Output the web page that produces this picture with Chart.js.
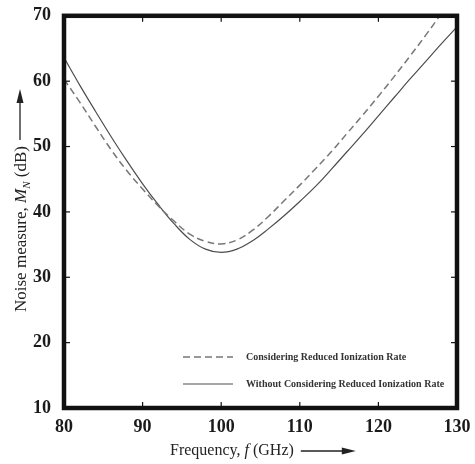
<!DOCTYPE html>
<html>
<head>
<meta charset="utf-8">
<script src="https://cdn.jsdelivr.net/npm/chart.js@4.4.0/dist/chart.umd.min.js"></script>
<style>
  html, body { margin: 0; padding: 0; background: #fff; }
</style>
</head>
<body>
<canvas id="noiseChart" width="475" height="464"></canvas>
<script>
// frequency sweep (GHz) and noise measure (dB) for both cases
const freqGHz = [80, 82, 84, 86, 88, 90, 92, 94, 96, 98, 100, 102, 104, 106, 108, 110, 112, 114, 116, 118, 120, 122, 124, 126, 128, 130];
const withReduced = [60.3, 56.8, 53.1, 49.5, 46.3, 43.5, 40.9, 38.6, 36.6, 35.5, 35.1, 35.7, 37.2, 39.3, 41.7, 44.1, 46.6, 49.2, 52.0, 54.8, 57.7, 60.7, 63.8, 67.0, 70.3, 73.6];
const withoutReduced = [63.6, 59.4, 55.4, 51.5, 47.8, 44.3, 41.1, 38.2, 35.8, 34.3, 33.8, 34.3, 35.6, 37.4, 39.4, 41.6, 43.9, 46.5, 49.2, 51.9, 54.7, 57.5, 60.3, 63.0, 65.7, 68.3];
const xTicks = [80, 90, 100, 110, 120, 130];
const yTicks = [10, 20, 30, 40, 50, 60, 70];

const serif = "'Liberation Serif', 'Times New Roman', serif";

function line(ctx, x1, y1, x2, y2) {
  ctx.beginPath();
  ctx.moveTo(x1, y1);
  ctx.lineTo(x2, y2);
  ctx.stroke();
}

function arrow(ctx, x1, y1, x2, y2) {
  const ang = Math.atan2(y2 - y1, x2 - x1);
  line(ctx, x1, y1, x2 - 10 * Math.cos(ang), y2 - 10 * Math.sin(ang));
  ctx.save();
  ctx.translate(x2, y2);
  ctx.rotate(ang);
  ctx.beginPath();
  ctx.moveTo(0, 0);
  ctx.lineTo(-14, -3.5);
  ctx.lineTo(-14, 3.5);
  ctx.closePath();
  ctx.fill();
  ctx.restore();
}

// thick box with inward ticks on all four sides
const frame = {
  id: 'frame',
  afterDatasetsDraw(chart) {
    const { ctx, chartArea: a, scales: { x, y } } = chart;
    ctx.save();
    ctx.strokeStyle = '#111';
    ctx.lineWidth = 1.2;
    xTicks.forEach(v => {
      const px = x.getPixelForValue(v);
      line(ctx, px, a.bottom, px, a.bottom - 6);
      line(ctx, px, a.top, px, a.top + 6);
    });
    yTicks.forEach(v => {
      const py = y.getPixelForValue(v);
      line(ctx, a.left, py, a.left + 6, py);
      line(ctx, a.right, py, a.right - 6, py);
    });
    ctx.lineWidth = 4.5;
    ctx.strokeRect(a.left, a.top, a.right - a.left, a.bottom - a.top);
    ctx.restore();
  }
};

// legend in the lower right of the plot
const innerLegend = {
  id: 'innerLegend',
  afterDatasetsDraw(chart) {
    const { ctx, chartArea: a } = chart;
    ctx.save();
    ctx.font = 'bold 10px ' + serif;
    ctx.textBaseline = 'middle';
    chart.data.datasets.forEach((ds, i) => {
      const yy = a.bottom - 51 + i * 27;
      ctx.strokeStyle = ds.borderColor;
      ctx.lineWidth = ds.borderWidth;
      ctx.setLineDash(ds.borderDash || []);
      line(ctx, a.left + 119, yy, a.left + 169, yy);
      ctx.setLineDash([]);
      ctx.fillStyle = '#333';
      ctx.fillText(ds.label, a.left + 182, yy);
    });
    ctx.restore();
  }
};

// axis titles with italic symbols and direction arrows
const axisTitles = {
  id: 'axisTitles',
  afterDraw(chart) {
    const { ctx } = chart;
    ctx.save();
    ctx.fillStyle = '#222';
    ctx.strokeStyle = '#222';
    ctx.lineWidth = 1.3;
    ctx.textBaseline = 'alphabetic';

    // x title
    let x = 170;
    const by = 455;
    const parts = [['Frequency, ', '16px'], ['f', 'italic 16px'], [' (GHz)', '16px']];
    parts.forEach(([t, f]) => {
      ctx.font = f + ' ' + serif;
      ctx.fillText(t, x, by);
      x += ctx.measureText(t).width;
    });
    arrow(ctx, x + 7, by - 4, x + 62, by - 4);

    // y title, drawn upward
    ctx.save();
    ctx.translate(26, 312);
    ctx.rotate(-Math.PI / 2);
    let s = 0;
    const yParts = [['Noise measure, ', '17px', 0], ['M', 'italic 17px', 0], ['N', 'italic 11px', 4], [' (dB)', '17px', 0]];
    yParts.forEach(([t, f, dy]) => {
      ctx.font = f + ' ' + serif;
      ctx.fillText(t, s, dy);
      s += ctx.measureText(t).width;
    });
    arrow(ctx, s + 6, -6, s + 57, -6);
    ctx.restore();
    ctx.restore();
  }
};

const tickFont = { family: serif, weight: 'bold', size: 18 };

new Chart(document.getElementById('noiseChart').getContext('2d'), {
  type: 'line',
  data: {
    datasets: [
      {
        label: 'Considering Reduced Ionization Rate',
        data: freqGHz.map((f, i) => ({ x: f, y: withReduced[i] })),
        borderColor: '#777',
        borderWidth: 1.5,
        borderDash: [7, 4],
        pointRadius: 0,
        tension: 0.4
      },
      {
        label: 'Without Considering Reduced Ionization Rate',
        data: freqGHz.map((f, i) => ({ x: f, y: withoutReduced[i] })),
        borderColor: '#4d4d4d',
        borderWidth: 1.2,
        pointRadius: 0,
        tension: 0.4
      }
    ]
  },
  options: {
    responsive: false,
    animation: false,
    layout: { padding: { top: 13, right: 18, left: 0, bottom: 0 } },
    plugins: { legend: { display: false }, tooltip: { enabled: false } },
    scales: {
      x: {
        type: 'linear',
        min: 80,
        max: 130,
        grid: { display: false },
        border: { display: false },
        ticks: { font: tickFont, color: '#1a1a1a', padding: 1, maxRotation: 0 },
        afterBuildTicks(s) { s.ticks = xTicks.map(v => ({ value: v })); },
        afterFit(s) { s.height = 56; }
      },
      y: {
        min: 10,
        max: 70,
        grid: { display: false },
        border: { display: false },
        ticks: { font: tickFont, color: '#1a1a1a', padding: 5 },
        afterBuildTicks(s) { s.ticks = yTicks.map(v => ({ value: v })); },
        afterFit(s) { s.width = 64; }
      }
    }
  },
  plugins: [frame, innerLegend, axisTitles]
});
</script>
</body>
</html>
